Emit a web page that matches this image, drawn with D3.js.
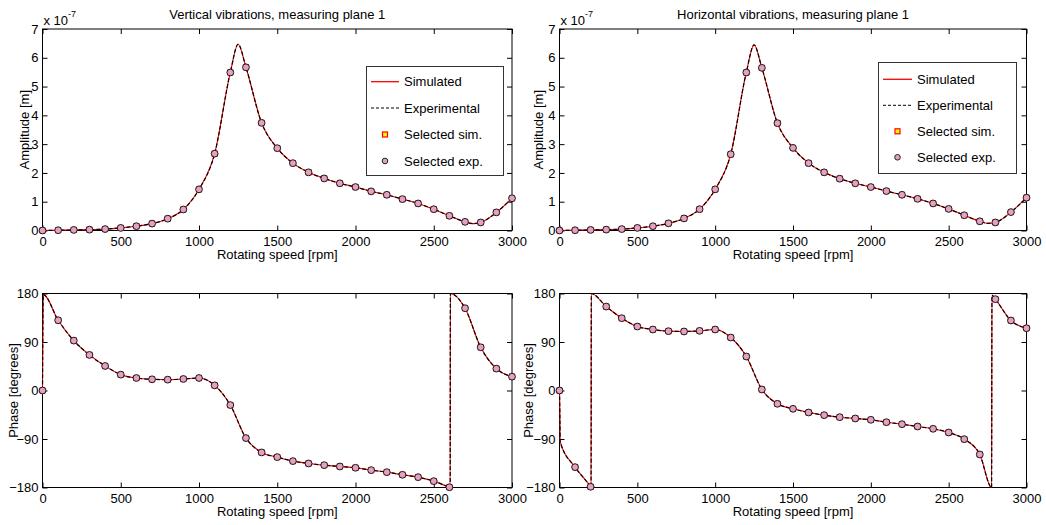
<!DOCTYPE html>
<html>
<head>
<meta charset="utf-8">
<script src="https://cdn.jsdelivr.net/npm/d3@7"></script>
<style>
  body { margin: 0; background: #fff; }
  text { font-family: "Liberation Sans", Arial, sans-serif; font-size: 13px; fill: #000; }
</style>
</head>
<body>
<svg id="chart" width="1046" height="525"></svg>
<script>
// Rotor run-up: amplitude and phase, simulated vs experimental

// ---- data ----
var speedTicks = [0, 500, 1000, 1500, 2000, 2500, 3000];
var ampTicks = [0, 1, 2, 3, 4, 5, 6, 7];
var phaseTicks = [-180, -90, 0, 90, 180];

// selected speeds (markers)
var selSpeeds = [0, 100, 200, 300, 400, 500, 600, 700, 800, 900, 1000, 1100, 1200, 1300, 1400, 1500,
  1600, 1700, 1800, 1900, 2000, 2100, 2200, 2300, 2400, 2500, 2600, 2700, 2800, 2900, 3000];

// amplitudes in units of 1e-7 m
var vertAmpSel = [0.00, 0.01, 0.02, 0.03, 0.05, 0.09, 0.15, 0.24, 0.41, 0.73, 1.43, 2.67, 5.49, 5.67, 3.74, 2.86,
  2.34, 2.02, 1.81, 1.64, 1.51, 1.36, 1.24, 1.09, 0.94, 0.74, 0.51, 0.30, 0.28, 0.63, 1.12];
var horAmpSel = [0.00, 0.01, 0.02, 0.03, 0.05, 0.09, 0.15, 0.25, 0.42, 0.74, 1.43, 2.65, 5.49, 5.65, 3.73, 2.87,
  2.34, 2.02, 1.80, 1.64, 1.51, 1.37, 1.24, 1.10, 0.94, 0.75, 0.53, 0.32, 0.28, 0.64, 1.14];

// phase in degrees
var vertPhaseSel = [0, 130.4, 92.6, 66, 45.5, 29.4, 23.2, 20.8, 20.1, 21.4, 23.2, 9.6, -27, -88.3, -114.9, -123.6,
  -131, -135.4, -138.5, -141, -143.4, -147.8, -151.5, -156.4, -160.8, -168.2, -179.5, 152.7, 80.2, 40.6, 25.7];
var horPhaseSel = [0, -142.2, -178.7, 155.8, 134.2, 118.7, 113.2, 110.1, 109.5, 110.7, 113.2, 98.3, 63.1, 1.9, -24.7, -34,
  -40.8, -45.7, -49.5, -51.9, -54.4, -58.8, -62.5, -66.8, -71.1, -77.9, -90.3, -118.7, 169.5, 129.9, 115.6];

// continuous curves (simulated and experimental lie on top of each other)
var ampCurveSpeeds = [0, 100, 200, 300, 400, 500, 600, 700, 800, 900, 1000, 1100, 1200, 1250, 1300, 1400, 1500,
  1600, 1700, 1800, 1900, 2000, 2100, 2200, 2300, 2400, 2500, 2600, 2700, 2750, 2800, 2900, 3000];
var vertAmpCurve = [0.00, 0.01, 0.02, 0.03, 0.05, 0.09, 0.15, 0.24, 0.41, 0.73, 1.43, 2.67, 5.49, 6.47, 5.67, 3.74, 2.86,
  2.34, 2.02, 1.81, 1.64, 1.51, 1.36, 1.24, 1.09, 0.94, 0.74, 0.51, 0.30, 0.24, 0.28, 0.63, 1.12];
var horAmpCurve = [0.00, 0.01, 0.02, 0.03, 0.05, 0.09, 0.15, 0.25, 0.42, 0.74, 1.43, 2.65, 5.49, 6.45, 5.65, 3.73, 2.87,
  2.34, 2.02, 1.80, 1.64, 1.51, 1.37, 1.24, 1.10, 0.94, 0.75, 0.53, 0.32, 0.25, 0.28, 0.64, 1.14];

var vertPhaseSpeeds = [0, 5, 100, 200, 300, 400, 500, 600, 700, 800, 900, 1000, 1100, 1200, 1300, 1400, 1500,
  1600, 1700, 1800, 1900, 2000, 2100, 2200, 2300, 2400, 2500, 2600, 2605, 2606, 2700, 2800, 2900, 3000];
var vertPhaseCurve = [0, 178, 130.4, 92.6, 66, 45.5, 29.4, 23.2, 20.8, 20.1, 21.4, 23.2, 9.6, -27, -88.3, -114.9, -123.6,
  -131, -135.4, -138.5, -141, -143.4, -147.8, -151.5, -156.4, -160.8, -168.2, -179.5, -180, 180, 152.7, 80.2, 40.6, 25.7];

var horPhaseSpeeds = [0, 3, 4, 100, 200, 203, 204, 300, 400, 500, 600, 700, 800, 900, 1000, 1100, 1200, 1300, 1400, 1500,
  1600, 1700, 1800, 1900, 2000, 2100, 2200, 2300, 2400, 2500, 2600, 2700, 2776, 2778, 2800, 2900, 3000];
var horPhaseCurve = [0, -60, -95, -142.2, -178.7, -180, 180, 155.8, 134.2, 118.7, 113.2, 110.1, 109.5, 110.7, 113.2, 98.3, 63.1, 1.9, -24.7, -34,
  -40.8, -45.7, -49.5, -51.9, -54.4, -58.8, -62.5, -66.8, -71.1, -77.9, -90.3, -118.7, -180, 177, 169.5, 129.9, 115.6];

var legendLabels = ["Simulated", "Experimental", "Selected sim.", "Selected exp."];

// ---- colours ----
var simColor = "#ff0000";
var markFill = "#e6a0c0";

var svg = d3.select("#chart");

var panels = [
  { left: 42.5, right: 512, top: 29, bottom: 230.5, yDomain: [0, 7], yTicks: ampTicks,
    title: "Vertical vibrations, measuring plane 1", ylabel: "Amplitude [m]", ylabelX: 28.5,
    curveX: ampCurveSpeeds, curveY: vertAmpCurve, selY: vertAmpSel, exponent: true,
    legend: { x: 366, y: 66, w: 137, h: 109, rows: [81.7, 108, 134.5, 161], lineX: [371, 399], textX: 404 } },
  { left: 559.5, right: 1026.5, top: 29, bottom: 230.5, yDomain: [0, 7], yTicks: ampTicks,
    title: "Horizontal vibrations, measuring plane 1", ylabel: "Amplitude [m]", ylabelX: 542.5,
    curveX: ampCurveSpeeds, curveY: horAmpCurve, selY: horAmpSel, exponent: true,
    legend: { x: 878, y: 62, w: 138, h: 111, rows: [79.3, 105.3, 131.3, 157.3], lineX: [883, 912], textX: 917 } },
  { left: 42.5, right: 512, top: 293.5, bottom: 487.5, yDomain: [-180, 180], yTicks: phaseTicks,
    ylabel: "Phase [degrees]", ylabelX: 18,
    curveX: vertPhaseSpeeds, curveY: vertPhaseCurve, selY: vertPhaseSel },
  { left: 559.5, right: 1026.5, top: 293.5, bottom: 487.5, yDomain: [-180, 180], yTicks: phaseTicks,
    ylabel: "Phase [degrees]", ylabelX: 532.5,
    curveX: horPhaseSpeeds, curveY: horPhaseCurve, selY: horPhaseSel }
];

panels.forEach(drawPanel);

function drawPanel(p) {
  var x = d3.scaleLinear().domain([0, 3000]).range([p.left, p.right]);
  var y = d3.scaleLinear().domain(p.yDomain).range([p.bottom, p.top]);
  var g = svg.append("g");

  // axes with inward ticks on all four sides
  g.append("g")
    .attr("transform", `translate(0, ${p.bottom})`)
    .call(d3.axisBottom(x).tickValues(speedTicks).tickSizeInner(-5).tickSizeOuter(0).tickPadding(6).tickFormat(d3.format("d")));
  g.append("g")
    .attr("transform", `translate(0, ${p.top})`)
    .call(d3.axisTop(x).tickValues(speedTicks).tickSizeInner(-5).tickSizeOuter(0).tickFormat(""));
  g.append("g")
    .attr("transform", `translate(${p.left}, 0)`)
    .call(d3.axisLeft(y).tickValues(p.yTicks).tickSizeInner(-5).tickSizeOuter(0).tickPadding(4).tickFormat(d3.format("d")));
  g.append("g")
    .attr("transform", `translate(${p.right}, 0)`)
    .call(d3.axisRight(y).tickValues(p.yTicks).tickSizeInner(-5).tickSizeOuter(0).tickFormat(""));
  g.selectAll(".domain").remove();

  g.append("rect")
    .attr("x", p.left).attr("y", p.top)
    .attr("width", p.right - p.left).attr("height", p.bottom - p.top)
    .attr("fill", "none").attr("stroke", "#000").attr("stroke-width", 1);

  // labels
  g.append("text")
    .attr("x", (p.left + p.right) / 2).attr("y", p.bottom + 28.5)
    .attr("text-anchor", "middle")
    .text("Rotating speed [rpm]");
  g.append("text")
    .attr("transform", `translate(${p.ylabelX}, ${(p.top + p.bottom) / 2}) rotate(-90)`)
    .attr("text-anchor", "middle")
    .text(p.ylabel);
  if (p.title) {
    g.append("text")
      .attr("x", (p.left + p.right) / 2).attr("y", 19)
      .attr("text-anchor", "middle")
      .text(p.title);
  }
  if (p.exponent) {
    var ex = g.append("text").attr("x", p.left + 1).attr("y", 25);
    ex.append("tspan").text("x 10");
    ex.append("tspan").attr("dy", -8).style("font-size", "9px").text("-7");
  }

  // curves
  var line = d3.line()
    .x(d => x(d[0]))
    .y(d => y(d[1]))
    .curve(d3.curveMonotoneX);
  var curve = d3.zip(p.curveX, p.curveY);

  g.append("path")
    .attr("d", line(curve))
    .attr("fill", "none")
    .attr("stroke", simColor)
    .attr("stroke-width", 1.1);
  g.append("path")
    .attr("d", line(curve))
    .attr("fill", "none")
    .attr("stroke", "#000")
    .attr("stroke-width", 1.2)
    .attr("stroke-dasharray", "4,2");

  var pts = d3.zip(selSpeeds, p.selY);

  // selected simulated (squares, mostly hidden below the experimental circles)
  g.selectAll(".simMark")
    .data(pts)
    .enter()
    .append("rect")
    .attr("class", "simMark")
    .attr("x", d => x(d[0]) - 2.5)
    .attr("y", d => y(d[1]) - 2.5)
    .attr("width", 5)
    .attr("height", 5)
    .attr("fill", "#ffff00")
    .attr("stroke", simColor)
    .attr("stroke-width", 1);

  // selected experimental (circles)
  g.selectAll(".expMark")
    .data(pts)
    .enter()
    .append("circle")
    .attr("class", "expMark")
    .attr("cx", d => x(d[0]))
    .attr("cy", d => y(d[1]))
    .attr("r", 3.4)
    .attr("fill", markFill)
    .attr("stroke", "#1a1a1a")
    .attr("stroke-width", 1);

  if (p.legend) drawLegend(g, p.legend);
}

function drawLegend(g, L) {
  var lg = g.append("g");
  lg.append("rect")
    .attr("x", L.x + 0.5).attr("y", L.y + 0.5)
    .attr("width", L.w).attr("height", L.h)
    .attr("fill", "#fff").attr("stroke", "#333").attr("stroke-width", 1);

  lg.append("line")
    .attr("x1", L.lineX[0]).attr("x2", L.lineX[1])
    .attr("y1", L.rows[0]).attr("y2", L.rows[0])
    .attr("stroke", simColor).attr("stroke-width", 1.3);
  lg.append("line")
    .attr("x1", L.lineX[0]).attr("x2", L.lineX[1])
    .attr("y1", L.rows[1]).attr("y2", L.rows[1])
    .attr("stroke", "#000").attr("stroke-width", 1).attr("stroke-dasharray", "3,2");

  var mx = (L.lineX[0] + L.lineX[1]) / 2;
  lg.append("rect")
    .attr("x", mx - 2.5).attr("y", L.rows[2] - 2.5)
    .attr("width", 5).attr("height", 5)
    .attr("fill", "#ffff00").attr("stroke", simColor).attr("stroke-width", 1.2);
  lg.append("circle")
    .attr("cx", mx).attr("cy", L.rows[3])
    .attr("r", 2.8)
    .attr("fill", markFill).attr("stroke", "#222").attr("stroke-width", 1);

  lg.selectAll(".legText")
    .data(legendLabels)
    .enter()
    .append("text")
    .attr("class", "legText")
    .attr("x", L.textX)
    .attr("y", (d, i) => L.rows[i] + 4.5)
    .text(d => d);
}
</script>
</body>
</html>
